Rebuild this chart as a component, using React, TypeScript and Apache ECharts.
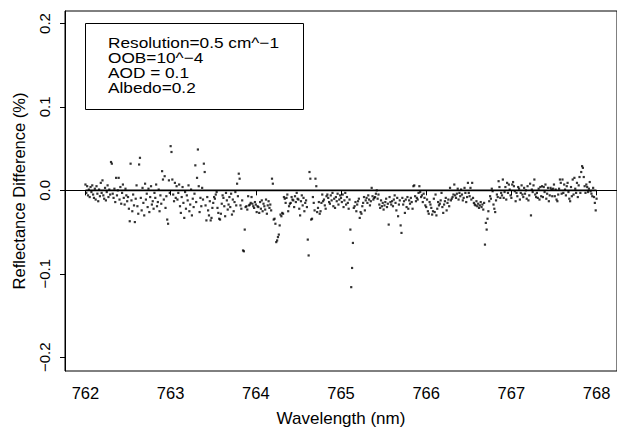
import React, { useEffect, useRef } from "react";
import * as echarts from "echarts";

// Wavelength grid (nm): first sample and spacing
const startWavelength = 762;
const sampleStep = 0.01;

// Reflectance difference (%), one array per nm (0.01 nm spacing)
const diff762 = [
  0.007, -0.003, 0.005, -0.006, 0.001, -0.008, 0.004, -0.002, 0.006, -0.005,
  -0.009, 0.002, -0.011, 0.005, -0.004, -0.013, 0.001, -0.007, 0.009, -0.003,
  0.012, -0.006, -0.010, 0.003, -0.012, -0.002, 0.006, -0.008, 0.001, -0.005,
  0.034, 0.032, -0.004, -0.009, 0.002, -0.014, 0.015, -0.006, 0.000, 0.015,
  -0.011, 0.004, -0.016, -0.003, 0.007, -0.009, -0.017, 0.002, -0.006, -0.013,
  -0.008, -0.022, -0.037, 0.032, -0.012, -0.025, -0.005, -0.018, -0.038, -0.010,
  0.006, -0.019, -0.028, 0.031, 0.039, -0.009, -0.024, 0.003, -0.015, -0.030,
  0.008, -0.011, -0.004, -0.020, 0.002, -0.026, -0.008, 0.005, -0.017, -0.013,
  -0.022, -0.003, -0.009, 0.007, -0.019, -0.014, 0.001, -0.025, -0.006, -0.016,
  0.023, 0.013, -0.011, 0.017, -0.021, -0.007, -0.035, -0.040, 0.012, -0.003,
];
const diff763 = [
  0.053, 0.046, 0.013, -0.005, -0.013, 0.009, -0.009, 0.005, -0.011, -0.003,
  0.007, -0.019, -0.027, -0.008, 0.004, -0.015, -0.033, -0.002, -0.022, -0.006,
  -0.012, 0.006, -0.025, -0.017, 0.001, -0.030, -0.010, -0.020, -0.004, 0.030,
  -0.014, 0.015, 0.049, 0.005, -0.026, -0.009, -0.019, 0.003, -0.011, 0.032,
  0.022, -0.018, -0.036, -0.008, -0.024, -0.030, -0.013, -0.036, -0.033, -0.021,
  -0.015, -0.008, -0.010, -0.005, -0.002, -0.021, -0.027, -0.034, -0.035, -0.028,
  -0.016, -0.006, -0.009, -0.019, -0.031, -0.003, -0.012, -0.023, -0.017, -0.008,
  -0.020, -0.004, -0.029, -0.011, -0.025, -0.014, -0.002, -0.018, 0.008, -0.007,
  0.020, 0.014, -0.018, -0.022, -0.012, -0.072, -0.073, -0.047, -0.020, -0.019,
  -0.023, -0.007, -0.018, -0.017, -0.015, -0.008, -0.016, -0.019, -0.021, -0.014,
];
const diff764 = [
  -0.017, -0.026, -0.019, -0.020, -0.027, -0.014, -0.022, -0.012, -0.025, -0.016,
  -0.019, -0.023, -0.011, -0.028, -0.018, -0.013, -0.021, -0.017, -0.024, 0.014,
  0.008, -0.035, -0.034, -0.040, -0.062, -0.060, -0.056, -0.053, -0.042, -0.029,
  -0.031, -0.027, -0.028, -0.008, -0.010, -0.015, -0.009, -0.005, -0.025, -0.019,
  -0.016, -0.015, -0.008, -0.011, -0.012, -0.020, -0.007, -0.014, -0.003, -0.010,
  -0.011, -0.022, -0.030, -0.013, -0.006, -0.018, -0.009, -0.025, -0.015, -0.012,
  -0.020, -0.059, -0.078, 0.022, 0.014, -0.035, -0.034, -0.008, -0.015, -0.024,
  0.014, 0.005, -0.026, -0.021, -0.014, -0.028, -0.025, -0.015, -0.005, -0.013,
  -0.011, -0.018, -0.022, -0.007, -0.005, -0.009, -0.014, -0.016, -0.006, -0.012,
  -0.003, -0.019, -0.010, -0.021, -0.008, -0.013, -0.004, -0.017, -0.011, -0.006,
];
const diff765 = [
  -0.009, -0.014, -0.005, -0.020, -0.012, -0.003, -0.017, -0.008, -0.015, -0.022,
  -0.011, -0.047, -0.116, -0.093, -0.063, -0.021, -0.019, -0.014, -0.025, -0.017,
  -0.013, -0.010, -0.033, -0.026, -0.028, -0.019, -0.015, -0.008, -0.024, -0.012,
  -0.009, -0.015, -0.006, -0.011, -0.018, -0.013, 0.003, -0.007, -0.011, -0.009,
  -0.008, -0.004, 0.000, -0.010, -0.005, -0.017, -0.021, -0.012, -0.019, -0.015,
  -0.023, -0.018, -0.014, -0.010, -0.020, -0.016, -0.041, -0.008, -0.014, -0.017,
  -0.013, -0.019, -0.011, -0.006, -0.015, -0.024, -0.009, -0.031, -0.017, -0.012,
  -0.042, -0.051, -0.009, -0.017, -0.013, -0.027, -0.011, -0.020, -0.008, -0.022,
  -0.012, -0.016, -0.009, -0.014, -0.022, 0.005, 0.006, -0.007, -0.013, -0.009,
  -0.011, -0.003, 0.005, -0.002, -0.008, -0.006, -0.014, -0.004, -0.009, -0.018,
];
const diff766 = [
  -0.020, -0.011, -0.025, -0.028, -0.014, -0.017, -0.021, -0.029, -0.025, -0.010,
  -0.026, -0.005, -0.030, -0.022, -0.014, -0.018, -0.016, -0.012, -0.003, -0.020,
  -0.027, -0.017, -0.013, -0.009, -0.024, -0.015, -0.011, -0.019, 0.003, -0.012,
  -0.010, -0.008, -0.005, 0.007, -0.006, -0.009, -0.004, 0.002, -0.011, -0.003,
  -0.007, 0.001, -0.005, -0.012, -0.009, 0.003, -0.003, -0.014, -0.008, 0.009,
  -0.003, -0.007, 0.003, -0.011, 0.009, -0.009, -0.015, -0.017, -0.018, -0.013,
  -0.019, -0.016, -0.021, -0.018, -0.014, -0.020, -0.017, -0.023, -0.015, -0.065,
  -0.039, -0.047, -0.034, -0.025, -0.013, -0.007, -0.010, 0.002, -0.001, -0.017,
  -0.022, -0.026, -0.012, -0.005, -0.008, 0.011, 0.004, -0.009, -0.003, -0.006,
  0.013, -0.009, -0.002, 0.004, -0.011, 0.009, -0.003, 0.007, 0.001, -0.006,
];
const diff767 = [
  -0.009, 0.007, 0.010, 0.005, -0.001, -0.013, -0.003, -0.007, 0.004, 0.002,
  -0.011, -0.003, 0.006, -0.005, -0.008, 0.003, -0.004, 0.000, -0.010, 0.005,
  -0.012, -0.006, 0.008, -0.030, 0.001, -0.002, 0.006, 0.013, -0.005, -0.008,
  -0.003, -0.009, 0.002, -0.011, 0.004, -0.007, 0.005, -0.008, 0.004, -0.002,
  0.007, -0.010, -0.004, 0.003, -0.013, -0.006, 0.003, 0.001, -0.007, 0.002,
  0.007, -0.007, 0.001, -0.011, -0.013, -0.005, 0.002, 0.013, 0.009, -0.004,
  0.013, -0.003, 0.007, 0.001, -0.006, 0.005, 0.009, -0.002, -0.010, -0.013,
  0.004, -0.007, 0.013, -0.005, 0.015, 0.002, -0.003, 0.009, -0.008, 0.006,
  0.016, -0.003, 0.022, 0.029, 0.027, 0.016, 0.005, -0.003, 0.007, 0.004,
  -0.002, 0.002, 0.010, -0.001, -0.004, -0.007, 0.003, -0.008, -0.015, -0.024,
];
const diff768 = [-0.010];

const xTicks = [762, 763, 764, 765, 766, 767, 768];
const yTicks = [-0.2, -0.1, 0.0, 0.1, 0.2];
const referenceLine = [
  [762, 0],
  [768, 0],
];
const legendLines = [
  "Resolution=0.5 cm^\u22121",
  "OOB=10^\u22124",
  "AOD = 0.1",
  "Albedo=0.2",
];

const FONT = "'Liberation Sans', Arial, Helvetica, sans-serif";

export default function App() {
  const ref = useRef<HTMLDivElement>(null);

  useEffect(() => {
    if (!ref.current) return;
    const chart = echarts.init(ref.current, undefined, { renderer: "svg" });

    const allDiffs = [
      ...diff762,
      ...diff763,
      ...diff764,
      ...diff765,
      ...diff766,
      ...diff767,
      ...diff768,
    ];
    const points = allDiffs.map((v, i) => [
      Math.round((startWavelength + i * sampleStep) * 100) / 100,
      v,
    ]);

    const fmtY = (v: number) => {
      const s = Math.abs(v).toFixed(1);
      return v < -1e-9 ? "\u2212" + s : s;
    };

    chart.setOption({
      animation: false,
      backgroundColor: "#fff",
      grid: {
        left: 65,
        top: 11,
        width: 555,
        height: 367,
        show: true,
        borderColor: "#000",
        borderWidth: 1,
        backgroundColor: "transparent",
      },
      xAxis: {
        type: "value",
        min: 761.76,
        max: 768.24,
        name: "Wavelength (nm)",
        nameLocation: "middle",
        nameGap: 39,
        nameTextStyle: { fontFamily: FONT, fontSize: 17, color: "#000" },
        axisLine: { show: true, lineStyle: { color: "#000", width: 1 } },
        axisTick: {
          show: true,
          length: 5,
          inside: false,
          customValues: xTicks,
          lineStyle: { color: "#000" },
        },
        axisLabel: {
          show: true,
          margin: 13,
          customValues: xTicks,
          fontFamily: FONT,
          fontSize: 16.5,
          color: "#000",
          formatter: (v: number) => String(v),
        },
        splitLine: { show: false },
      },
      yAxis: {
        type: "value",
        min: -0.2165,
        max: 0.215,
        name: "Reflectance Difference (%)",
        nameLocation: "middle",
        nameRotate: 90,
        nameGap: 38,
        nameTextStyle: { fontFamily: FONT, fontSize: 16.5, color: "#000" },
        axisLine: { show: true, lineStyle: { color: "#000", width: 1 } },
        axisTick: {
          show: true,
          length: 5,
          inside: false,
          customValues: yTicks,
          lineStyle: { color: "#000" },
        },
        axisLabel: {
          show: true,
          rotate: 90,
          margin: 13,
          customValues: yTicks,
          fontFamily: FONT,
          fontSize: 15,
          color: "#000",
          formatter: (v: number) => fmtY(v),
        },
        splitLine: { show: false },
      },
      series: [
        {
          type: "scatter",
          data: points,
          symbol: "rect",
          symbolSize: 2.2,
          itemStyle: { color: "#000" },
          silent: true,
          z: 2,
        },
        {
          type: "line",
          data: referenceLine,
          symbol: "none",
          lineStyle: { color: "#000", width: 1.8 },
          silent: true,
          z: 3,
        },
      ],
      graphic: [
        {
          type: "rect",
          shape: { x: 85.5, y: 23.5, width: 218, height: 86 },
          style: { fill: "#fff", stroke: "#000", lineWidth: 1 },
          z: 10,
        },
        ...legendLines.map((t, i) => ({
          type: "text",
          x: 108,
          y: 42 + i * 15.3,
          scaleX: 1.15,
          z: 11,
          style: {
            text: t,
            fontFamily: FONT,
            fontSize: 15,
            fill: "#000",
            verticalAlign: "middle",
            textAlign: "left",
          },
        })),
      ],
    });

    return () => {
      chart.dispose();
    };
  }, []);

  return (
    <div
      ref={ref}
      style={{
        position: "absolute",
        left: 0,
        top: 0,
        width: 617,
        height: 432,
        background: "#fff",
      }}
    />
  );
}
